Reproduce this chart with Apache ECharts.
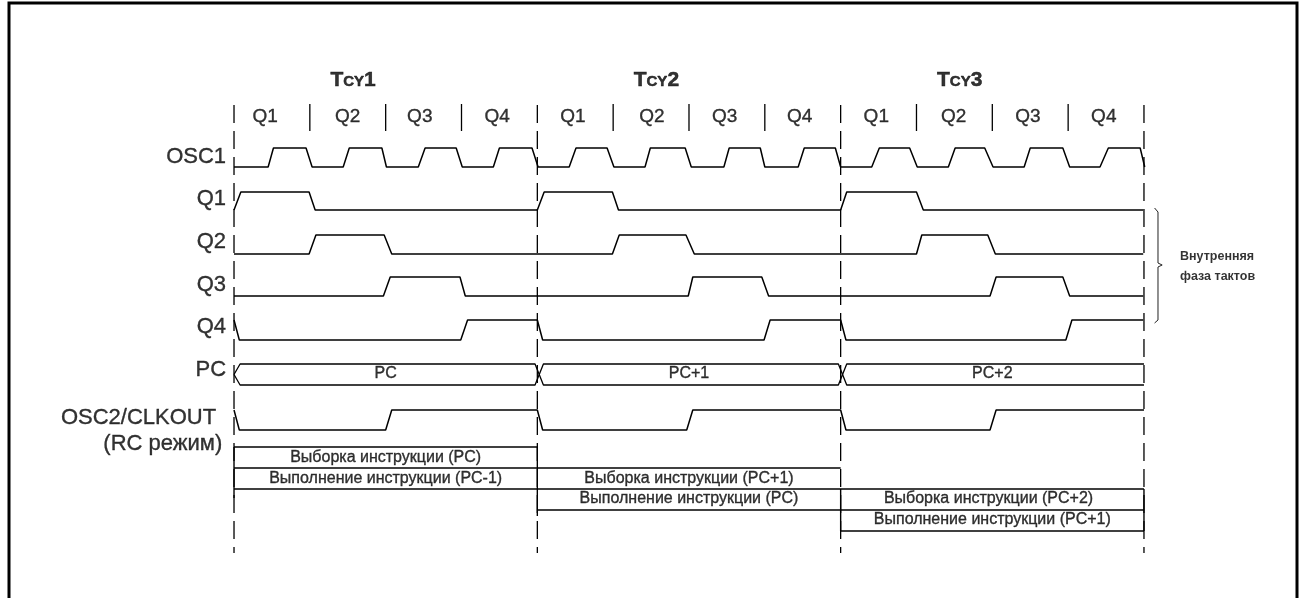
<!DOCTYPE html>
<html>
<head>
<meta charset="utf-8">
<script src="https://cdn.jsdelivr.net/npm/echarts@6/dist/echarts.min.js"></script>
<style>
  html, body { margin: 0; padding: 0; background: #fff; }
  #chart { width: 1302px; height: 598px; }
</style>
</head>
<body>
<div id="chart"></div>
<script>
// time unit = one Q phase, 4 phases per instruction cycle (Tcy)
const cycleLabels = ['1', '2', '3'];
const cycleLabelX = [1.57, 5.57, 9.57];
const phaseLabels = ['Q1', 'Q2', 'Q3', 'Q4', 'Q1', 'Q2', 'Q3', 'Q4', 'Q1', 'Q2', 'Q3', 'Q4'];
const phaseLabelX = [0.41, 1.5, 2.45, 3.47, 4.47, 5.51, 6.47, 7.46, 8.47, 9.49, 10.47, 11.47];
const phaseTicks = [1, 2, 3, 5, 6, 7, 9, 10, 11];
const cycleBounds = [0, 4, 8, 12];

// signal rows: name, low level, high level (vertical units)
const signalNames = ['OSC1', 'Q1', 'Q2', 'Q3', 'Q4'];
const signalLow = [21.55, 19.4, 17.2, 15.1, 12.9];
const signalHigh = [22.5, 20.3, 18.15, 16.05, 13.9];

// waveforms as [time, level] with level 0 = low, 1 = high
const osc1Wave = [
  [0, 0], [0.45, 0], [0.52, 1], [0.95, 1], [1.03, 0], [1.44, 0], [1.52, 1], [1.95, 1], [2.01, 0],
  [2.43, 0], [2.52, 1], [2.93, 1], [3.01, 0], [3.42, 0], [3.5, 1], [3.93, 1], [4.01, 0],
  [4.42, 0], [4.51, 1], [4.92, 1], [5.01, 0], [5.42, 0], [5.49, 1], [5.95, 1], [6.03, 0],
  [6.46, 0], [6.53, 1], [6.94, 1], [7.0, 0], [7.44, 0], [7.52, 1], [7.93, 1], [8.0, 0],
  [8.41, 0], [8.51, 1], [8.91, 1], [9.01, 0], [9.42, 0], [9.51, 1], [9.9, 1], [10.01, 0],
  [10.42, 0], [10.5, 1], [10.93, 1], [11.02, 0], [11.42, 0], [11.53, 1], [11.95, 1], [12.01, 0]
];
const q1Wave = [
  [0, 0], [0.09, 1], [0.99, 1], [1.07, 0], [4.0, 0], [4.09, 1], [4.99, 1], [5.07, 0],
  [8.0, 0], [8.08, 1], [9.0, 1], [9.09, 0], [11.99, 0]
];
const q2Wave = [
  [0, 0], [0.99, 0], [1.08, 1], [1.98, 1], [2.08, 0], [4.99, 0], [5.08, 1], [5.96, 1], [6.07, 0],
  [9.0, 0], [9.07, 1], [9.94, 1], [10.04, 0], [11.99, 0]
];
const q3Wave = [
  [0, 0], [1.97, 0], [2.06, 1], [2.98, 1], [3.05, 0], [5.99, 0], [6.05, 1], [6.96, 1], [7.05, 0],
  [9.97, 0], [10.05, 1], [10.93, 1], [11.02, 0], [11.99, 0]
];
const q4Wave = [
  [0, 1], [0.07, 0], [2.99, 0], [3.08, 1], [4.0, 1], [4.07, 0], [6.99, 0], [7.07, 1],
  [8.0, 1], [8.07, 0], [10.97, 0], [11.05, 1], [11.99, 1]
];
const signalWaves = [osc1Wave, q1Wave, q2Wave, q3Wave, q4Wave];

// program counter bus
const pcTop = 11.7;
const pcBottom = 10.65;
const pcValues = ['PC', 'PC+1', 'PC+2'];
const pcValueX = [2.0, 6.0, 10.0];
const pcEdges = [0, 4, 8];

// OSC2/CLKOUT (RC mode)
const osc2Low = 8.4;
const osc2High = 9.4;
const osc2Wave = [
  [0, 1], [0.07, 0], [2.0, 0], [2.08, 1], [4.0, 1], [4.07, 0], [5.97, 0], [6.05, 1],
  [8.0, 1], [8.07, 0], [9.97, 0], [10.05, 1], [12.0, 1]
];

// pipeline boxes: horizontal rules [level, from, to], vertical rules [time, from, to]
const boxRows = [
  [7.55, 0, 4], [6.5, 0, 8], [5.45, 0, 12], [4.4, 4, 12], [3.35, 8, 12]
];
const boxEdges = [
  [0, 7.55, 5.0], [4, 7.55, 4.1], [8, 5.45, 3.35], [12, 5.45, 3.35]
];
const boxTexts = [
  'Выборка инструкции (PC)', 'Выполнение инструкции (PC-1)',
  'Выборка инструкции (PC+1)', 'Выполнение инструкции (PC)',
  'Выборка инструкции (PC+2)', 'Выполнение инструкции (PC+1)'
];
const boxTextX = [2.0, 2.0, 6.0, 6.0, 9.95, 10.0];
const boxTextY = [7.0, 5.95, 5.95, 4.95, 4.95, 3.9];

// brace for the internal phase clocks
const bracePath = [
  [12.14, 19.5], [12.185, 19.3], [12.185, 16.75], [12.24, 16.65],
  [12.185, 16.55], [12.185, 13.9], [12.14, 13.75]
];

const FONT = '"Liberation Sans", Arial, sans-serif';
const INK = '#000';

const chart = echarts.init(document.getElementById('chart'));

function lineSeries(data, extra) {
  return Object.assign({
    type: 'line',
    data: data,
    showSymbol: false,
    symbol: 'none',
    silent: true,
    animation: false,
    lineStyle: { color: INK, width: 1.5 }
  }, extra || {});
}

function textSeries(items, label) {
  return {
    type: 'scatter',
    symbolSize: 0,
    silent: true,
    animation: false,
    data: items,
    label: Object.assign({
      show: true,
      position: 'inside',
      color: INK,
      fontFamily: FONT,
      formatter: function (p) { return p.name; }
    }, label)
  };
}

const series = [];

// dashed cycle boundaries
cycleBounds.forEach(function (t) {
  series.push(lineSeries([[t, 24.65], [t, 2.25]], {
    lineStyle: { color: INK, width: 1.3, type: [18, 8] }
  }));
});
// short phase separators in the header
phaseTicks.forEach(function (t) {
  series.push(lineSeries([[t, 24.7], [t, 23.35]], { lineStyle: { color: INK, width: 1.3 } }));
});

// digital signals
signalWaves.forEach(function (wave, i) {
  series.push(lineSeries(wave.map(function (p) {
    return [p[0], p[1] ? signalHigh[i] : signalLow[i]];
  })));
});
series.push(lineSeries(osc2Wave.map(function (p) {
  return [p[0], p[1] ? osc2High : osc2Low];
})));

// PC bus: two rails crossing at each cycle edge
const pcMid = (pcTop + pcBottom) / 2;
const railA = [[0, pcMid]];
const railB = [[0, pcMid]];
pcEdges.forEach(function (t, i) {
  const up = i % 2 === 0;
  if (i > 0) {
    railA.push([t - 0.03, up ? pcBottom : pcTop]);
    railB.push([t - 0.03, up ? pcTop : pcBottom]);
  }
  railA.push([t + 0.08, up ? pcTop : pcBottom]);
  railB.push([t + 0.08, up ? pcBottom : pcTop]);
});
railA.push([12, railA[railA.length - 1][1]]);
railB.push([12, railB[railB.length - 1][1]]);
series.push(lineSeries(railA, { lineStyle: { color: INK, width: 1.3 } }));
series.push(lineSeries(railB, { lineStyle: { color: INK, width: 1.3 } }));

// pipeline boxes
boxRows.forEach(function (r) {
  series.push(lineSeries([[r[1], r[0]], [r[2], r[0]]], { lineStyle: { color: INK, width: 1.4 } }));
});
boxEdges.forEach(function (e) {
  series.push(lineSeries([[e[0], e[1]], [e[0], e[2]]], { lineStyle: { color: INK, width: 1.4 } }));
});

// brace
series.push(lineSeries(bracePath, { lineStyle: { color: '#222', width: 1 } }));

// texts (slight outline mimics the heavier print of the original)
const heavy = { textBorderColor: INK, textBorderWidth: 0.35 };

series.push(textSeries(cycleLabels.map(function (c, i) {
  return { name: c, value: [cycleLabelX[i], 25.9] };
}), {
  formatter: function (p) { return '{t|T}{s|CY}{t|' + p.name + '}'; },
  rich: {
    t: { fontSize: 21, fontWeight: 'bold', fontFamily: FONT, color: INK, textBorderColor: INK, textBorderWidth: 0.5 },
    s: { fontSize: 15, fontWeight: 'bold', fontFamily: FONT, color: INK, textBorderColor: INK, textBorderWidth: 0.5, padding: [3, 0, 0, 0] }
  }
}));
series.push(textSeries(phaseLabels.map(function (q, i) {
  return { name: q, value: [phaseLabelX[i], 24.05] };
}), Object.assign({ fontSize: 19 }, heavy)));

const leftNames = signalNames.concat(['PC', 'OSC2/CLKOUT', '(RC режим)']);
const leftX = [-0.105, -0.105, -0.105, -0.105, -0.105, -0.105, -0.235, -0.155];
const leftY = [22.05, 19.95, 17.8, 15.65, 13.55, 11.4, 9.0, 7.7];
series.push(textSeries(leftNames.map(function (n, i) {
  return { name: n, value: [leftX[i], leftY[i]] };
}), Object.assign({ position: 'left', distance: 0, align: 'right', fontSize: 22 }, heavy)));

series.push(textSeries(pcValues.map(function (n, i) {
  return { name: n, value: [pcValueX[i], 11.2] };
}), Object.assign({ fontSize: 16 }, heavy)));

series.push(textSeries(boxTexts.map(function (n, i) {
  return { name: n, value: [boxTextX[i], boxTextY[i]] };
}), Object.assign({ fontSize: 16 }, heavy)));

series.push(textSeries([{ name: 'Внутренняя\nфаза тактов', value: [12.475, 16.55] }], {
  position: 'right', distance: 0, align: 'left', fontSize: 12.5, fontWeight: 'bold', lineHeight: 20
}));

const option = {
  backgroundColor: '#fff',
  animation: false,
  grid: { left: 0, right: 0, top: 0, bottom: 0 },
  xAxis: { type: 'value', min: -3.086, max: 14.084, show: false },
  yAxis: { type: 'value', min: 0, max: 29.9, show: false },
  graphic: [{
    type: 'polyline',
    silent: true,
    shape: { points: [[9, 610], [9, 3], [1297, 3], [1297, 610]] },
    style: { stroke: INK, lineWidth: 3, fill: null }
  }],
  series: series
};

chart.setOption(option);
</script>
</body>
</html>
